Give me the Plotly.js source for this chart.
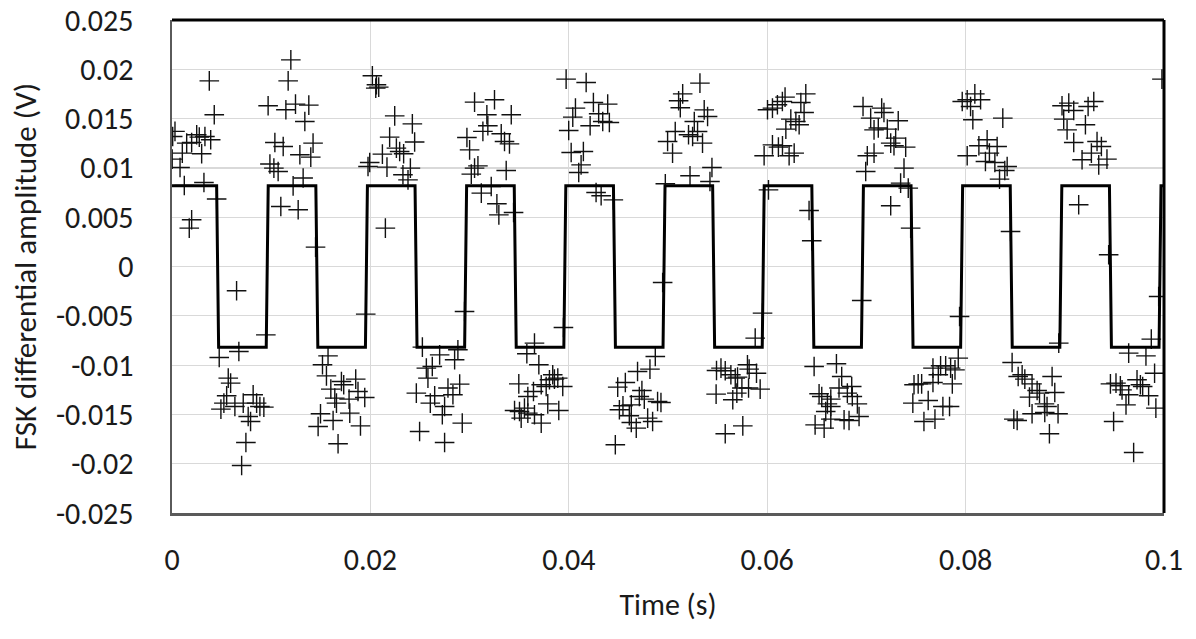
<!DOCTYPE html>
<html>
<head>
<meta charset="utf-8">
<script src="https://cdn.plot.ly/plotly-3.0.1.min.js"></script>
<style>html,body{margin:0;padding:0;background:#fff;}#chart{width:1196px;height:639px;}</style>
</head>
<body>
<div id="chart"></div>
<script>
// Reference square-wave (FSK demodulated bit pattern) vertices
const waveT = [0, 0.0045, 0.0047, 0.0095, 0.0097, 0.0145, 0.0147, 0.0195, 0.0197, 0.0245, 0.0247, 0.0295, 0.0297, 0.0345, 0.0347, 0.0395, 0.0397, 0.0445, 0.0447, 0.0495, 0.0497, 0.0545, 0.0547, 0.0595, 0.0597, 0.0645, 0.0647, 0.0695, 0.0697, 0.0745, 0.0747, 0.0795, 0.0797, 0.0845, 0.0847, 0.0895, 0.0897, 0.0945, 0.0947, 0.0995, 0.0997, 0.1];
const waveV = [0.0082, 0.0082, -0.0082, -0.0082, 0.0082, 0.0082, -0.0082, -0.0082, 0.0082, 0.0082, -0.0082, -0.0082, 0.0082, 0.0082, -0.0082, -0.0082, 0.0082, 0.0082, -0.0082, -0.0082, 0.0082, 0.0082, -0.0082, -0.0082, 0.0082, 0.0082, -0.0082, -0.0082, 0.0082, 0.0082, -0.0082, -0.0082, 0.0082, 0.0082, -0.0082, -0.0082, 0.0082, 0.0082, -0.0082, -0.0082, 0.0082, 0.0082];

// Measured samples (time s, amplitude V)
const sampleT = [
0.00376,0.00426,0.0003,0.00007,0.00148,0.00198,0.00249,0.00275,0.00332,0.0039,0.00104,0.00299,0.00002,0.00081,0.00124,0.00322,0.0045,0.00198,0.00174,
0.00651,0.00946,0.00476,0.00674,0.00567,0.00591,0.00551,0.00523,0.00493,0.00634,0.00718,0.00818,0.00853,0.00886,0.00926,0.00768,0.00792,0.00745,0.00702,
0.01198,0.01171,0.00969,0.01148,0.01245,0.01379,0.01339,0.01037,0.01121,0.01422,0.01289,0.01399,0.00987,0.01027,0.0107,0.01322,0.01221,0.01097,0.01272,0.01447,
0.01573,0.01517,0.01557,0.01601,0.01708,0.01731,0.01852,0.01875,0.01943,0.01785,0.01658,0.01641,0.01497,0.01473,0.01624,0.01792,0.019,0.01674,0.01953,
0.0202,0.02061,0.02084,0.02054,0.02245,0.02423,0.02446,0.02194,0.02121,0.02262,0.02335,0.02295,0.01993,0.01976,0.02167,0.02403,0.02328,0.02379,0.02151,
0.02524,0.02698,0.02564,0.02624,0.0258,0.02463,0.02648,0.02604,0.02748,0.02725,0.02496,0.02748,0.02882,0.02849,0.02782,0.029,0.02832,0.02926,0.02949,
0.0305,0.03251,0.03174,0.0342,0.03184,0.03134,0.02973,0.03319,0.03352,0.03402,0.03,0.03084,0.0305,0.03017,0.03369,0.03218,0.03118,0.03275,0.03295,0.03443,
0.03654,0.03577,0.03698,0.03496,0.03838,0.03805,0.03855,0.03889,0.03722,0.03772,0.03939,0.03644,0.03587,0.03788,0.03553,0.03453,0.03503,0.03587,0.0352,0.03654,0.03899,0.03722,0.03946,
0.03973,0.04175,0.04067,0.04248,0.04392,0.0404,0.04301,0.04215,0.04342,0.04409,0.03999,0.04024,0.04147,0.04124,0.041,0.04275,0.04326,0.04449,
0.04872,0.04818,0.04693,0.0457,0.04493,0.04737,0.04711,0.04761,0.04546,0.0463,0.0451,0.04895,0.04929,0.0461,0.04795,0.04845,0.0463,0.0468,0.04469,0.04946,
0.05148,0.05107,0.05124,0.05073,0.04996,0.05046,0.04973,0.05322,0.05365,0.05399,0.05265,0.05298,0.05207,0.05248,0.05348,0.05222,0.05443,0.05423,
0.05953,0.05879,0.05489,0.05534,0.05577,0.05634,0.05701,0.05801,0.05818,0.05892,0.05678,0.05745,0.05812,0.05929,0.05694,0.05485,0.05653,0.05754,0.05577,
0.06003,0.06053,0.06103,0.06153,0.0618,0.06389,0.06339,0.06372,0.06238,0.06289,0.06322,0.06188,0.06053,0.06113,0.06154,0.05969,0.06221,0.06272,0.06013,0.06422,0.06449,
0.06473,0.06698,0.06751,0.06724,0.06852,0.06523,0.0655,0.06641,0.06808,0.06858,0.06909,0.06607,0.06641,0.0659,0.06641,0.06926,0.06775,0.06825,0.06483,0.06574,0.06953,
0.06966,0.07043,0.07154,0.07177,0.07077,0.0712,0.07211,0.07321,0.07295,0.07245,0.07278,0.07396,0.07009,0.07077,0.06993,0.07379,0.07345,0.07422,0.07245,0.07446,
0.0748,0.07522,0.07557,0.07671,0.07748,0.07799,0.07849,0.07926,0.07893,0.07725,0.07671,0.07866,0.07623,0.07771,0.07838,0.07691,0.0758,0.07939,0.07468,
0.07966,0.08016,0.08093,0.08151,0.0805,0.08073,0.08375,0.08134,0.08217,0.08318,0.08016,0.0824,0.082,0.08295,0.08419,0.08395,0.08342,0.08453,
0.08469,0.0853,0.0857,0.08597,0.0867,0.08721,0.08745,0.08872,0.08899,0.08644,0.08795,0.08821,0.0867,0.08798,0.08932,0.08486,0.0852,0.08845,0.08939,
0.08972,0.0904,0.0909,0.09292,0.09235,0.08989,0.09208,0.09023,0.0909,0.09325,0.09369,0.09268,0.09425,0.09174,0.09342,0.0914,0.09442,0.09979,
0.09946,0.09872,0.09644,0.09818,0.09905,0.0946,0.09516,0.0956,0.09728,0.09762,0.09785,0.09577,0.09644,0.09845,0.09617,0.09918,0.09492,0.09694
];
const sampleV = [
0.01883,0.01539,0.0137,0.01318,0.01251,0.01258,0.01336,0.01312,0.01318,0.01285,0.0115,0.01143,0.01089,0.01004,0.00822,0.00852,0.00684,0.00474,0.00389,
-0.00246,-0.00693,-0.00923,-0.00862,-0.01132,-0.01183,-0.01311,-0.01386,-0.01446,-0.0142,-0.01386,-0.01301,-0.01386,-0.0142,-0.01426,-0.01521,-0.01572,-0.01785,-0.02018,
0.02096,0.01883,0.0163,0.01589,0.01647,0.01637,0.01471,0.01258,0.01217,0.01251,0.01133,0.01109,0.01039,0.00998,0.00963,0.00897,0.00818,0.00609,0.00575,0.00197,
-0.00906,-0.00997,-0.01109,-0.01244,-0.01166,-0.012,-0.01142,-0.01268,-0.01329,-0.01345,-0.01386,-0.01335,-0.01494,-0.01623,-0.01562,-0.01487,-0.01616,-0.01798,-0.00483,
0.01934,0.01843,0.01819,0.01809,0.01528,0.01447,0.01262,0.01312,0.0114,0.01201,0.01143,0.01166,0.01055,0.01014,0.01008,0.00998,0.0093,0.00879,0.00389,
-0.00818,-0.00896,-0.01031,-0.01014,-0.01132,-0.01284,-0.01311,-0.01386,-0.0142,-0.01504,-0.01673,-0.01785,-0.00845,-0.00946,-0.01233,-0.01193,-0.01301,-0.01588,-0.00456,
0.01667,0.01691,0.01539,0.01539,0.01427,0.0137,0.01308,0.01346,0.01268,0.01244,0.01183,0.01021,0.00998,0.00937,0.00974,0.00811,0.00744,0.00636,0.00524,0.00548,
-0.00777,-0.00885,-0.00997,-0.0119,-0.01098,-0.01149,-0.01142,-0.01132,-0.012,-0.01217,-0.01217,-0.01268,-0.01318,-0.01393,-0.01436,-0.0146,-0.0147,-0.01487,-0.01538,-0.01504,-0.0146,-0.01588,-0.00619,
0.019,0.01866,0.01606,0.01663,0.01647,0.01515,0.01549,0.01427,0.01471,0.0146,0.01379,0.01156,0.01166,0.01031,0.00953,0.0075,0.00717,0.00676,
-0.00913,-0.01041,-0.01065,-0.01176,-0.01223,-0.01258,-0.01318,-0.01345,-0.01413,-0.01403,-0.01453,-0.01369,-0.01379,-0.01514,-0.01538,-0.01572,-0.01582,-0.01639,-0.01808,-0.00162,
0.01751,0.01681,0.0161,0.01369,0.01268,0.0115,0.00839,0.0186,0.01588,0.01521,0.01471,0.01369,0.01336,0.01318,0.01251,0.0092,0.01004,0.00862,
-0.00473,-0.00726,-0.01055,-0.01031,-0.01058,-0.01098,-0.01122,-0.00997,-0.01041,-0.01082,-0.01132,-0.01233,-0.01233,-0.01244,-0.01284,-0.01294,-0.01352,-0.01616,-0.01697,
0.01589,0.01606,0.0164,0.01673,0.01718,0.01751,0.01663,0.01562,0.01495,0.01471,0.01437,0.01393,0.01234,0.01211,0.01224,0.01123,0.01123,0.0115,0.00777,0.00568,0.00261,
-0.01014,-0.00987,-0.01116,-0.01233,-0.01217,-0.01291,-0.01318,-0.01345,-0.01284,-0.01318,-0.01393,-0.01393,-0.0142,-0.0147,-0.01548,-0.01521,-0.01555,-0.01562,-0.01606,-0.01639,-0.00345,
0.01623,0.01505,0.01606,0.01562,0.01386,0.01404,0.01393,0.01478,0.01302,0.01251,0.01224,0.01211,0.01123,0.0115,0.00963,0.00998,0.00846,0.00795,0.00616,0.00389,
-0.012,-0.0119,-0.0119,-0.01031,-0.01007,-0.01007,-0.01031,-0.00929,-0.01048,-0.01098,-0.01176,-0.0119,-0.01359,-0.0142,-0.0142,-0.01548,-0.01572,-0.00507,-0.01386,
0.01673,0.01691,0.01751,0.01691,0.01623,0.01488,0.01505,0.01224,0.01285,0.01217,0.01123,0.0115,0.01065,0.01055,0.01014,0.00974,0.00886,0.00355,
-0.00973,-0.01116,-0.01098,-0.01142,-0.0119,-0.01258,-0.01284,-0.01116,-0.01278,-0.01325,-0.01393,-0.0142,-0.01494,-0.01481,-0.01494,-0.01548,-0.01562,-0.01697,-0.00777,
0.0163,0.01657,0.01582,0.01673,0.01623,0.01495,0.01437,0.01386,0.01258,0.01268,0.01217,0.0115,0.01089,0.01082,0.01031,0.00626,0.00119,0.019,
-0.00304,-0.00737,-0.00879,-0.00906,-0.01082,-0.0119,-0.01183,-0.0121,-0.01149,-0.012,-0.01217,-0.01251,-0.01301,-0.01311,-0.01403,-0.01436,-0.01572,-0.01886
];

// Axis ticks
const xTickVals = [0, 0.02, 0.04, 0.06, 0.08, 0.1];
const xTickText = ['0', '0.02', '0.04', '0.06', '0.08', '0.1'];
const yTickVals = [0.025, 0.02, 0.015, 0.01, 0.005, 0, -0.005, -0.01, -0.015, -0.02, -0.025];
const yTickText = ['0.025', '0.02', '0.015', '0.01', '0.005', '0', '-0.005', '-0.01', '-0.015', '-0.02', '-0.025'];

const FONT = 'Carlito, Lato, sans-serif';

const traces = [
  {
    x: sampleT, y: sampleV, type: 'scatter', mode: 'markers', name: 'Measured',
    marker: {symbol: 'cross-thin-open', size: 14, color: '#111', line: {color: '#111', width: 1.4}},
    hoverinfo: 'x+y'
  },
  {
    x: waveT, y: waveV, type: 'scatter', mode: 'lines', name: 'Bit pattern',
    line: {color: '#000', width: 3}, hoverinfo: 'x+y'
  }
];

const layout = {
  width: 1196, height: 639,
  margin: {l: 172, r: 32, t: 20, b: 126, autoexpand: false},
  paper_bgcolor: '#fff', plot_bgcolor: '#fff',
  showlegend: false,
  font: {family: FONT, size: 30, color: '#1a1a1a'},
  xaxis: {
    range: [0, 0.1], tickvals: xTickVals, ticktext: xTickText,
    showgrid: true, gridcolor: '#d9d9d9', gridwidth: 1.2, zeroline: false,
    showline: true, linecolor: '#5a5a5a', linewidth: 2.5,
    ticks: '', ticklabelstandoff: 18,
    tickfont: {family: FONT, size: 30, color: '#1a1a1a'},
    title: {text: 'Time (s)', font: {family: FONT, size: 30, color: '#1a1a1a'}, standoff: 18}
  },
  yaxis: {
    range: [-0.025, 0.025], tickvals: yTickVals, ticktext: yTickText,
    showgrid: true, gridcolor: '#d9d9d9', gridwidth: 1.2, zeroline: false,
    showline: true, linecolor: '#5a5a5a', linewidth: 2.5,
    ticks: '', ticklabelstandoff: 30,
    tickfont: {family: FONT, size: 30, color: '#1a1a1a'},
    title: {text: 'FSK differential amplitude (V)', font: {family: FONT, size: 31, color: '#1a1a1a'}, standoff: 10}
  },
  shapes: [
    {type: 'line', xref: 'paper', yref: 'paper', x0: 0, x1: 1, y0: 1, y1: 1, line: {color: '#000', width: 3}},
    {type: 'line', xref: 'paper', yref: 'paper', x0: 1, x1: 1, y0: 0, y1: 1, line: {color: '#000', width: 3}}
  ]
};

Plotly.newPlot('chart', traces, layout, {displayModeBar: false, staticPlot: true});
</script>
</body>
</html>
